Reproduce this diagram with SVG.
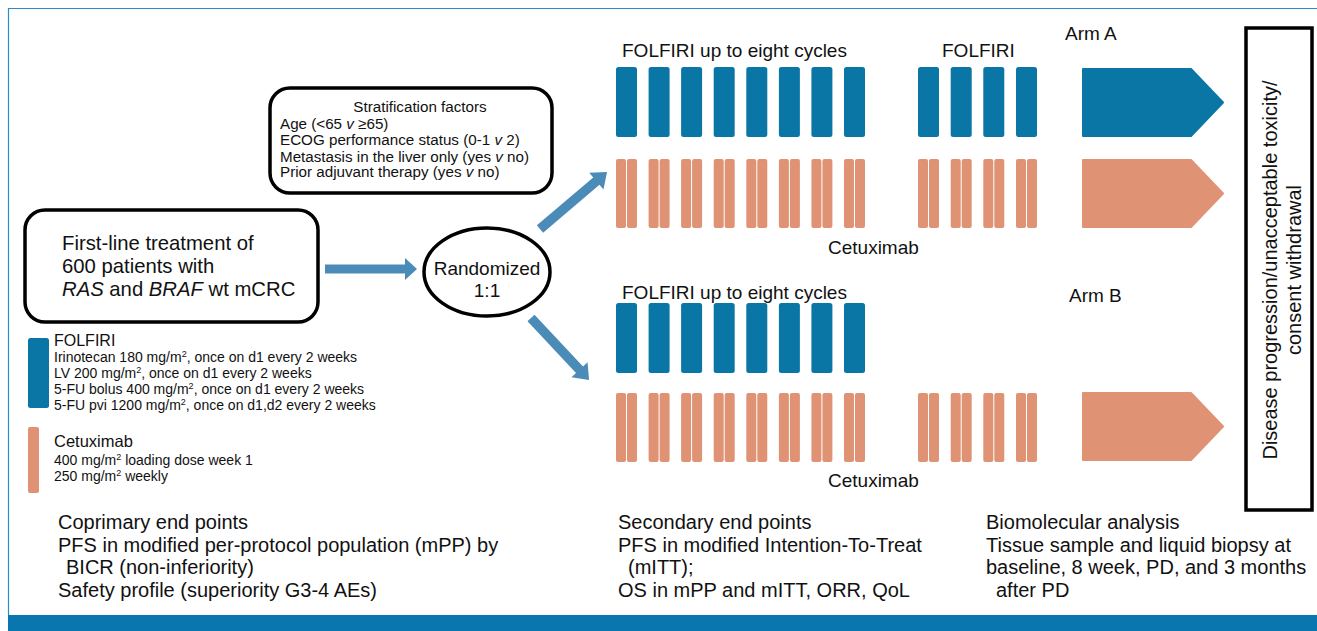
<svg xmlns="http://www.w3.org/2000/svg" width="1317" height="631" viewBox="0 0 1317 631">
<style>
text{font-family:"Liberation Sans",Arial,sans-serif;fill:#111}
.lg{font-size:20.3px}
.md{font-size:19px}
.bt{font-size:20px}
.sm{font-size:15.2px}
.xs{font-size:14px}
.sup{font-size:9px}
.box{fill:#fff;stroke:#000;stroke-width:3.5}
.f{fill:#0a76a6}
.c{fill:#e09374}
.arr{fill:#4b8bb8}
</style>
<defs>
<rect id="fb" width="21" height="70" rx="2.5" class="f"/>
<g id="cp"><rect x="0" width="10" height="69" rx="2" class="c"/><rect x="11" width="10" height="69" rx="2" class="c"/></g>
</defs>
<rect width="1317" height="631" fill="#fff"/>
<path d="M1317,8.5 H8.5 V615" fill="none" stroke="#2a8cc4" stroke-width="1.2"/>
<rect x="8" y="615" width="1309" height="16" fill="#0a76b0"/>

<g id="connectors">
<polygon class="arr" points="325,264.5 405,264.5 405,258 417,269 405,280 405,273.5 325,273.5"/>
<polygon class="arr" transform="translate(540,229) rotate(-40.4)" points="0,-4.8 74,-4.8 74,-11 88,0 74,11 74,4.8 0,4.8"/>
<polygon class="arr" transform="translate(531,318) rotate(46.9)" points="0,-4.8 71,-4.8 71,-11 85,0 71,11 71,4.8 0,4.8"/>
</g>

<g id="strat">
<rect class="box" x="270" y="88" width="282" height="105" rx="20"/>
<text class="sm" x="420" y="112" text-anchor="middle">Stratification factors</text>
<text class="sm" x="280" y="129">Age (&lt;65 <tspan font-style="italic">v</tspan> ≥65)</text>
<text class="sm" x="280" y="145">ECOG performance status (0-1 <tspan font-style="italic">v</tspan> 2)</text>
<text class="sm" x="280" y="162">Metastasis in the liver only (yes <tspan font-style="italic">v</tspan> no)</text>
<text class="sm" x="280" y="177">Prior adjuvant therapy (yes <tspan font-style="italic">v</tspan> no)</text>
</g>

<g id="population">
<rect class="box" x="25" y="210" width="293" height="112" rx="20"/>
<text class="lg" x="62" y="250">First-line treatment of</text>
<text class="lg" x="62" y="273">600 patients with</text>
<text class="lg" x="62" y="296"><tspan font-style="italic">RAS</tspan> and <tspan font-style="italic">BRAF</tspan> wt mCRC</text>
</g>

<g id="randomized">
<ellipse cx="487" cy="272" rx="63" ry="44" fill="#fff" stroke="#000" stroke-width="3.5"/>
<text class="md" x="487" y="275" text-anchor="middle">Randomized</text>
<text class="md" x="487" y="297" text-anchor="middle">1:1</text>
</g>

<g id="legend">
<rect x="28" y="338" width="21" height="70" rx="2.5" class="f"/>
<text x="54" y="346" font-size="16px">FOLFIRI</text>
<text class="xs" x="54" y="362">Irinotecan 180 mg/m<tspan dy="-5" class="sup">2</tspan><tspan dy="5">, once on d1 every 2 weeks</tspan></text>
<text class="xs" x="54" y="378">LV 200 mg/m<tspan dy="-5" class="sup">2</tspan><tspan dy="5">, once on d1 every 2 weeks</tspan></text>
<text class="xs" x="54" y="394">5-FU bolus 400 mg/m<tspan dy="-5" class="sup">2</tspan><tspan dy="5">, once on d1 every 2 weeks</tspan></text>
<text class="xs" x="54" y="410">5-FU pvi 1200 mg/m<tspan dy="-5" class="sup">2</tspan><tspan dy="5">, once on d1,d2 every 2 weeks</tspan></text>
<rect x="28" y="427" width="11" height="66" rx="2" class="c"/>
<text x="54" y="447" font-size="16.5px">Cetuximab</text>
<text class="xs" x="54" y="465">400 mg/m<tspan dy="-5" class="sup">2</tspan><tspan dy="5"> loading dose week 1</tspan></text>
<text class="xs" x="54" y="481">250 mg/m<tspan dy="-5" class="sup">2</tspan><tspan dy="5"> weekly</tspan></text>
</g>

<g id="armA">
<text class="md" x="1065" y="40">Arm A</text>
<text class="md" x="622" y="57">FOLFIRI up to eight cycles</text>
<text class="md" x="942" y="57">FOLFIRI</text>
<use href="#fb" x="616" y="67"/><use href="#fb" x="648.6" y="67"/><use href="#fb" x="681.1" y="67"/><use href="#fb" x="713.7" y="67"/>
<use href="#fb" x="746.3" y="67"/><use href="#fb" x="778.9" y="67"/><use href="#fb" x="811.4" y="67"/><use href="#fb" x="844" y="67"/>
<use href="#fb" x="918" y="67"/><use href="#fb" x="950.7" y="67"/><use href="#fb" x="983.3" y="67"/><use href="#fb" x="1016" y="67"/>
<use href="#cp" x="616" y="159"/><use href="#cp" x="648.6" y="159"/><use href="#cp" x="681.1" y="159"/><use href="#cp" x="713.7" y="159"/>
<use href="#cp" x="746.3" y="159"/><use href="#cp" x="778.9" y="159"/><use href="#cp" x="811.4" y="159"/><use href="#cp" x="844" y="159"/>
<use href="#cp" x="918" y="159"/><use href="#cp" x="950.7" y="159"/><use href="#cp" x="983.3" y="159"/><use href="#cp" x="1016" y="159"/>
<polygon class="f" points="1083,69 1191,69 1223,102.5 1191,136 1083,136" stroke="#0a76a6" stroke-width="2" stroke-linejoin="round"/>
<polygon class="c" points="1083,160 1191,160 1223,193.5 1191,227 1083,227" stroke="#e09374" stroke-width="2" stroke-linejoin="round"/>
<text class="md" x="828" y="254">Cetuximab</text>
</g>

<g id="armB">
<text class="md" x="1069" y="302">Arm B</text>
<text class="md" x="622" y="299">FOLFIRI up to eight cycles</text>
<use href="#fb" x="616" y="303"/><use href="#fb" x="648.6" y="303"/><use href="#fb" x="681.1" y="303"/><use href="#fb" x="713.7" y="303"/>
<use href="#fb" x="746.3" y="303"/><use href="#fb" x="778.9" y="303"/><use href="#fb" x="811.4" y="303"/><use href="#fb" x="844" y="303"/>
<use href="#cp" x="616" y="393"/><use href="#cp" x="648.6" y="393"/><use href="#cp" x="681.1" y="393"/><use href="#cp" x="713.7" y="393"/>
<use href="#cp" x="746.3" y="393"/><use href="#cp" x="778.9" y="393"/><use href="#cp" x="811.4" y="393"/><use href="#cp" x="844" y="393"/>
<use href="#cp" x="918" y="393"/><use href="#cp" x="950.7" y="393"/><use href="#cp" x="983.3" y="393"/><use href="#cp" x="1016" y="393"/>
<polygon class="c" points="1083,393 1191,393 1223,426.5 1191,460 1083,460" stroke="#e09374" stroke-width="2" stroke-linejoin="round"/>
<text class="md" x="828" y="487">Cetuximab</text>
</g>

<g id="endbox">
<rect x="1246" y="28" width="66" height="482" fill="#fff" stroke="#000" stroke-width="3.5"/>
<text class="bt" transform="translate(1277,270) rotate(-90)" text-anchor="middle">Disease progression/unacceptable toxicity/</text>
<text class="bt" transform="translate(1301,270) rotate(-90)" text-anchor="middle">consent withdrawal</text>
</g>

<g id="primary">
<text class="bt" x="58" y="529">Coprimary end points</text>
<text class="bt" x="58" y="552">PFS  in modified per-protocol population (mPP) by</text>
<text class="bt" x="66" y="574">BICR (non-inferiority)</text>
<text class="bt" x="58" y="597">Safety profile (superiority G3-4 AEs)</text>
</g>
<g id="secondary">
<text class="bt" x="618" y="529">Secondary  end points</text>
<text class="bt" x="618" y="552">PFS in modified Intention-To-Treat</text>
<text class="bt" x="628" y="574">(mITT);</text>
<text class="bt" x="618" y="597">OS in mPP and mITT, ORR, QoL</text>
</g>
<g id="biomolecular">
<text class="bt" x="986" y="529">Biomolecular analysis</text>
<text class="bt" x="986" y="552">Tissue sample and liquid biopsy at</text>
<text class="bt" x="986" y="574">baseline, 8 week, PD, and 3 months</text>
<text class="bt" x="996" y="597">after PD</text>
</g>
</svg>
